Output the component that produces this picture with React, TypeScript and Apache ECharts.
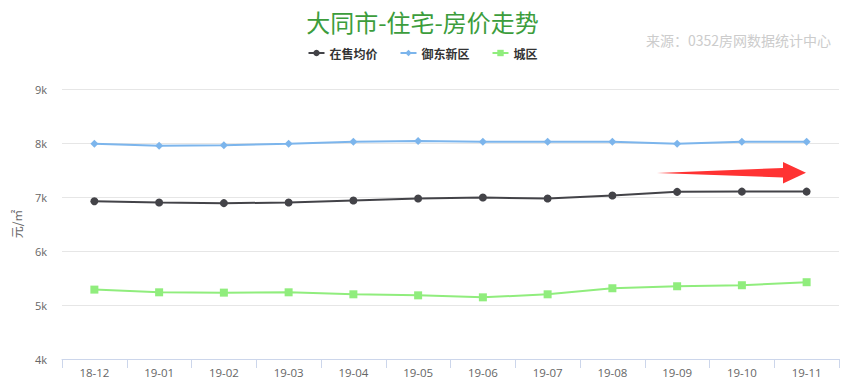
import React, { useEffect, useRef } from "react";
import * as echarts from "echarts";

const categories = ["18-12", "19-01", "19-02", "19-03", "19-04", "19-05", "19-06", "19-07", "19-08", "19-09", "19-10", "19-11"];
const onSale = [6920, 6897, 6886, 6897, 6935, 6972, 6991, 6972, 7028, 7095, 7100, 7100];
const yudong = [7987, 7950, 7960, 7987, 8025, 8035, 8025, 8025, 8025, 7987, 8025, 8025];
const chengqu = [5285, 5235, 5229, 5235, 5198, 5179, 5142, 5198, 5310, 5347, 5366, 5422];
const seriesNames = ["在售均价", "御东新区", "城区"];
const yTicks = ["4k", "5k", "6k", "7k", "8k", "9k"];

export default function App() {
  const ref = useRef<HTMLDivElement>(null);
  useEffect(() => {
    if (!ref.current) return;
    const chart = echarts.init(ref.current, undefined, { renderer: "svg" });
    const font = "'Open Sans', 'Noto Sans CJK SC', sans-serif";
    chart.setOption({
      animation: false,
      backgroundColor: "#ffffff",
      title: {
        text: "大同市-住宅-房价走势",
        left: "center",
        top: 4,
        textStyle: { color: "#3c9d3c", fontSize: 24, fontWeight: "normal", fontFamily: "'Noto Sans CJK SC', sans-serif" },
      },
      legend: {
        top: 42,
        left: "center",
        itemGap: 22,
        itemWidth: 16,
        itemHeight: 8,
        textStyle: { color: "#333333", fontSize: 12, fontWeight: "bold", fontFamily: "'Noto Sans CJK SC', sans-serif" },
        data: seriesNames,
      },
      grid: { left: 62, right: 6, top: 89, bottom: 28 },
      xAxis: {
        type: "category",
        data: categories,
        boundaryGap: true,
        axisLine: { lineStyle: { color: "#ccd6eb" } },
        axisTick: { show: true, length: 9, lineStyle: { color: "#ccd6eb" } },
        axisLabel: { color: "#666666", fontSize: 11.5, margin: 8, fontFamily: font },
      },
      yAxis: {
        type: "value",
        min: 4000,
        max: 9000,
        interval: 1000,
        name: "元/㎡",
        nameLocation: "middle",
        nameGap: 40,
        nameRotate: 90,
        nameTextStyle: { color: "#666666", fontSize: 12, fontFamily: "'Noto Sans CJK SC', sans-serif" },
        axisLine: { show: false },
        axisTick: { show: false },
        splitLine: { lineStyle: { color: "#e6e6e6" } },
        axisLabel: {
          color: "#666666",
          fontSize: 11,
          margin: 15,
          fontFamily: font,
          formatter: (v: number) => yTicks[Math.round((v - 4000) / 1000)] ?? "",
        },
      },
      series: [
        {
          name: seriesNames[0],
          type: "line",
          data: onSale,
          symbol: "circle",
          symbolSize: 8,
          itemStyle: { color: "#434348" },
          lineStyle: { width: 2, color: "#434348" },
        },
        {
          name: seriesNames[1],
          type: "line",
          data: yudong,
          symbol: "diamond",
          symbolSize: 8,
          itemStyle: { color: "#7cb5ec" },
          lineStyle: { width: 2, color: "#7cb5ec" },
        },
        {
          name: seriesNames[2],
          type: "line",
          data: chengqu,
          symbol: "rect",
          symbolSize: 8,
          itemStyle: { color: "#90ed7d" },
          lineStyle: { width: 2, color: "#90ed7d" },
        },
      ],
      graphic: [
        {
          type: "text",
          right: 14,
          top: 33,
          style: {
            text: "来源：0352房网数据统计中心",
            fill: "#cccccc",
            fontSize: 14,
            fontFamily: "'Noto Sans CJK SC', sans-serif",
          },
        },
        {
          type: "polygon",
          shape: {
            points: [
              [657, 173],
              [783, 168],
              [783, 162],
              [806, 172.7],
              [783, 183.5],
              [783, 177.5],
            ],
          },
          style: { fill: "#ff3333" },
        },
      ],
    });
    return () => chart.dispose();
  }, []);
  return <div ref={ref} style={{ position: "fixed", left: 0, top: 0, width: 845, height: 387 }} />;
}
